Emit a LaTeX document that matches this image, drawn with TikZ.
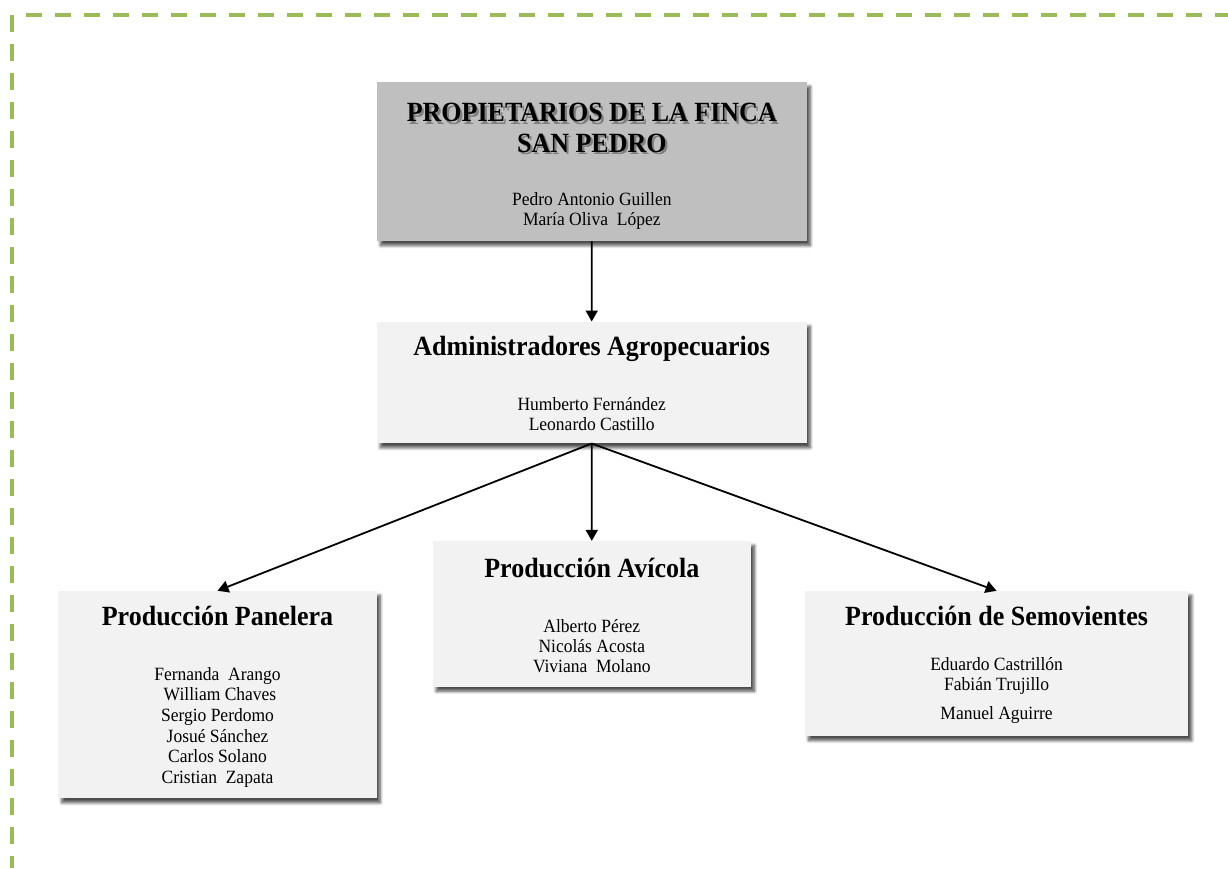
\documentclass[tikz,border=0pt]{standalone}
\usepackage{fontspec}
\usepackage{graphicx}
\setmainfont{Liberation Serif}
\usetikzlibrary{arrows.meta,shadows.blur}
\definecolor{framegreen}{HTML}{9BBB59}
\definecolor{topgray}{HTML}{BFBFBF}
\definecolor{boxgray}{HTML}{F2F2F2}
\newcommand{\vstretch}[1]{\scalebox{1}[1.07]{#1}}
\tikzset{
  orgbox/.style={rectangle, inner sep=0pt, draw=none,
    blur shadow={shadow xshift=3.5pt, shadow yshift=-4.5pt, shadow blur radius=3pt, shadow blur steps=8, shadow opacity=70}},
  titletext/.style={anchor=base, inner sep=0pt, font=\bfseries\fontsize{26}{30}\selectfont},
  nametext/.style={anchor=base, inner sep=0pt, font=\fontsize{17.5}{20.6}\selectfont},
  link/.style={line width=1.8pt, -{Triangle[length=11pt,width=12pt]}},
  frameline/.style={line width=3.6pt, framegreen, dash pattern=on 16.5pt off 12.5pt}
}
\begin{document}
\begin{tikzpicture}[x=1pt,y=-1pt]
\useasboundingbox (0,0) rectangle (1228,868);
% frame
\coordinate (fc) at (12,15);
\coordinate (fb) at (12,868);
\coordinate (ft) at (25.7,15);
\coordinate (fr) at (1228,15);
\draw[frameline] (fc) -- (fb);
\draw[frameline] (ft) -- (fr);
% boxes
\node[orgbox, fill=topgray, minimum width=430pt, minimum height=159pt] (top) at (591.8,161.5) {};
\node[orgbox, fill=boxgray, minimum width=430pt, minimum height=121.6pt] (admin) at (591.7,382.5) {};
\node[orgbox, fill=boxgray, minimum width=318.4pt, minimum height=207.3pt] (panel) at (217.5,694.6) {};
\node[orgbox, fill=boxgray, minimum width=318.3pt, minimum height=145.7pt] (avic) at (591.8,613.9) {};
\node[orgbox, fill=boxgray, minimum width=383.3pt, minimum height=145pt] (semov) at (996.6,663.5) {};
% connectors
\draw[link] (top.south) -- (admin.north);
\draw[link] (admin.south) -- (panel.north);
\draw[link] (admin.south) -- (avic.north);
\draw[link] (admin.south) -- (semov.north);
% top box text
\node[titletext, text=black!50] (t1s) at (594,124) {\vstretch{PROPIETARIOS DE LA FINCA}};
\node[titletext] (t1) at (591.8,121.7) {\vstretch{PROPIETARIOS DE LA FINCA}};
\node[titletext, text=black!50] (t2s) at (594,154.6) {\vstretch{SAN PEDRO}};
\node[titletext] (t2) at (591.8,152.3) {\vstretch{SAN PEDRO}};
\node[nametext] (n1) at (591.8,205.7) {\vstretch{Pedro Antonio Guillen}};
\node[nametext] (n2) at (591.8,225.7) {\vstretch{María Oliva\ \ López}};
% admin
\node[titletext] (ta) at (591.7,355) {\vstretch{Administradores Agropecuarios}};
\node[nametext] (a1) at (591.7,410) {\vstretch{Humberto Fernández}};
\node[nametext] (a2) at (591.7,430.7) {\vstretch{Leonardo Castillo}};
% panelera
\node[titletext] (tp) at (217.5,625.7) {\vstretch{Producción Panelera}};
\node[nametext] (p1) at (217.5,680) {\vstretch{Fernanda\ \ Arango}};
\node[nametext] (p2) at (220,700.7) {\vstretch{William Chaves}};
\node[nametext] (p3) at (217.5,721.5) {\vstretch{Sergio Perdomo}};
\node[nametext] (p4) at (217.5,742.2) {\vstretch{Josué Sánchez}};
\node[nametext] (p5) at (217.5,762.8) {\vstretch{Carlos Solano}};
\node[nametext] (p6) at (217.5,783.4) {\vstretch{Cristian\ \ Zapata}};
% avicola
\node[titletext] (tv) at (591.8,577.3) {\vstretch{Producción Avícola}};
\node[nametext] (v1) at (591.8,632.3) {\vstretch{Alberto Pérez}};
\node[nametext] (v2) at (591.8,652.3) {\vstretch{Nicolás Acosta}};
\node[nametext] (v3) at (591.8,672.3) {\vstretch{Viviana\ \ Molano}};
% semovientes
\node[titletext] (ts) at (996.6,625.7) {\vstretch{Producción de Semovientes}};
\node[nametext] (s1) at (996.6,670.7) {\vstretch{Eduardo Castrillón}};
\node[nametext] (s2) at (996.6,690.7) {\vstretch{Fabián Trujillo}};
\node[nametext] (s3) at (996.6,719.3) {\vstretch{Manuel Aguirre}};
\end{tikzpicture}
\end{document}
